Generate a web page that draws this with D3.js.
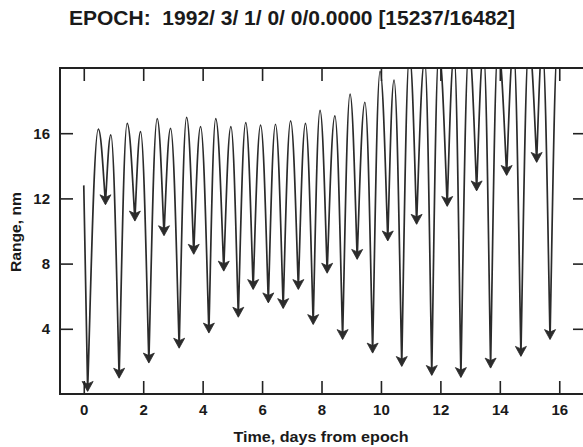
<!DOCTYPE html>
<html>
<head>
<meta charset="utf-8">
<script src="https://cdn.jsdelivr.net/npm/d3@7"></script>
<style>
  html, body { margin: 0; padding: 0; background: #fff; }
  svg { display: block; }
  text { font-family: "Liberation Sans", Arial, Helvetica, sans-serif; font-weight: bold; fill: #1a1a1a; }
</style>
</head>
<body>
<script>
// ---- data ----
const titleText = "EPOCH:  1992/ 3/ 1/ 0/ 0/0.0000 [15237/16482]";
const xLabel = "Time, days from epoch";
const yLabel = "Range, nm";
const xTicks = [0, 2, 4, 6, 8, 10, 12, 14, 16];
const yTicks = [4, 8, 12, 16];

const startPoint = [0.0, 12.8];
const minT = [0.13, 0.73, 1.19, 1.72, 2.19, 2.70, 3.21, 3.70, 4.21, 4.71, 5.20, 5.70, 6.21, 6.71, 7.22, 7.72,
              8.19, 8.71, 9.20, 9.72, 10.23, 10.70, 11.20, 11.71, 12.23, 12.69, 13.22, 13.69, 14.23, 14.71, 15.24, 15.69];
const minV = [0.25, 11.7, 1.06, 10.7, 1.99, 9.8, 2.9, 8.66, 3.83, 7.63, 4.8, 6.5, 5.68, 5.33, 6.5, 4.35,
              7.5, 3.43, 8.35, 2.6, 9.48, 1.78, 10.5, 1.23, 11.6, 1.1, 12.55, 1.68, 13.5, 2.4, 14.3, 3.43];
const peakT = [0.49, 0.91, 1.46, 1.91, 2.47, 2.92, 3.46, 3.93, 4.44, 4.95, 5.45, 5.95, 6.45, 6.96, 7.46, 7.95,
               8.45, 8.96, 9.46, 9.97, 10.44, 10.96, 11.47, 11.95, 12.46, 12.96, 13.45, 13.94, 14.46, 14.98, 15.43];
const peakV = [16.25, 15.9, 16.6, 16.1, 16.9, 16.3, 16.97, 16.4, 16.9, 16.4, 16.65, 16.5, 16.55, 16.76, 16.6, 17.4,
               17.06, 18.4, 17.9, 19.8, 19.26, 20.8, 20.5, 21.0, 20.8, 21.2, 21.0, 21.3, 21.2, 21.5, 21.3];
const endPoint = [15.95, 21.5];

// ---- layout ----
const W = 583, H = 447;
const plot = { left: 60, right: 586, top: 68, bottom: 394 };

const svg = d3.select("body").append("svg").attr("width", W).attr("height", H);

const x = d3.scaleLinear().domain([-0.8, 16.9]).range([plot.left, plot.right]);
const y = d3.scaleLinear().domain([0, 20]).range([plot.bottom, plot.top]);

// series assembled from the arrays above
const series = [startPoint];
minT.forEach((t, i) => {
  series.push([t, minV[i]]);
  if (i < peakT.length) series.push([peakT[i], peakV[i]]);
});
series.push(endPoint);

// custom curve: rounded peaks, sharp minima
function cuspCurve(context) {
  let pts;
  return {
    areaStart() {}, areaEnd() {},
    lineStart() { pts = []; },
    point(px, py) { pts.push([+px, +py]); },
    lineEnd() {
      if (!pts.length) return;
      context.moveTo(pts[0][0], pts[0][1]);
      const a = 0.42, b = 0.25, c = 0.3;
      for (let i = 1; i < pts.length; i++) {
        const p0 = pts[i - 1], p1 = pts[i];
        if (i === 1) { context.lineTo(p1[0], p1[1]); continue; }
        const dx = p1[0] - p0[0];
        if (p1[1] > p0[1]) { // going down to a minimum
          const dy = p1[1] - p0[1];
          context.bezierCurveTo(p0[0] + a * dx, p0[1], p1[0] - b * dx, p1[1] - c * dy, p1[0], p1[1]);
        } else { // rising from a minimum to a peak
          const dy = p0[1] - p1[1];
          context.bezierCurveTo(p0[0] + b * dx, p0[1] - c * dy, p1[0] - a * dx, p1[1], p1[0], p1[1]);
        }
      }
    }
  };
}

svg.append("defs").append("clipPath").attr("id", "clip")
  .append("rect").attr("x", plot.left).attr("y", plot.top)
  .attr("width", plot.right - plot.left).attr("height", plot.bottom - plot.top);

const line = d3.line().x(d => x(d[0])).y(d => y(d[1])).curve(cuspCurve);

const g = svg.append("g").attr("clip-path", "url(#clip)");
g.append("path").datum(series)
  .attr("d", line)
  .attr("fill", "none")
  .attr("stroke", "#2b2b2b")
  .attr("stroke-width", 1.7)
  .attr("stroke-linejoin", "round");

// arrowheads at the minima
g.selectAll("path.arrow").data(minT.map((t, i) => [t, minV[i]])).enter()
  .append("path").attr("class", "arrow")
  .attr("transform", d => `translate(${x(d[0])},${y(d[1])})`)
  .attr("d", "M0,1.5 L-5.5,-8.5 L0,-6 L5.5,-8.5 Z")
  .attr("fill", "#2b2b2b")
  .attr("stroke", "#2b2b2b")
  .attr("stroke-width", 0.8)
  .attr("stroke-linejoin", "miter");

// axes (ticks inward on all four sides)
const tickLen = 13;
const axisColor = "#222";
const axB = svg.append("g").attr("transform", `translate(0,${plot.bottom})`)
  .call(d3.axisBottom(x).tickValues(xTicks).tickSize(-tickLen).tickPadding(10).tickFormat(d3.format("d")));
const axT = svg.append("g").attr("transform", `translate(0,${plot.top})`)
  .call(d3.axisTop(x).tickValues(xTicks).tickSize(-tickLen).tickFormat(""));
const axL = svg.append("g").attr("transform", `translate(${plot.left},0)`)
  .call(d3.axisLeft(y).tickValues(yTicks).tickSize(-tickLen).tickPadding(10).tickFormat(d3.format("d")));
const axR = svg.append("g").attr("transform", `translate(${plot.right},0)`)
  .call(d3.axisRight(y).tickValues(yTicks).tickSize(-tickLen).tickFormat(""));

[axB, axT, axL, axR].forEach(ax => {
  ax.select(".domain").remove();
  ax.selectAll(".tick line").attr("stroke", axisColor).attr("stroke-width", 1.6);
  ax.selectAll("text").attr("font-size", 15).attr("fill", "#1a1a1a")
    .attr("font-family", "'Liberation Sans', Arial, sans-serif").attr("font-weight", "bold");
});

// frame
svg.append("rect")
  .attr("x", plot.left).attr("y", plot.top)
  .attr("width", plot.right - plot.left).attr("height", plot.bottom - plot.top)
  .attr("fill", "none").attr("stroke", axisColor).attr("stroke-width", 2);

// titles
svg.append("text").attr("x", 292).attr("y", 25).attr("text-anchor", "middle")
  .style("white-space", "pre")
  .attr("font-size", 19.5).attr("textLength", 446).attr("lengthAdjust", "spacingAndGlyphs")
  .text(titleText);
svg.append("text").attr("x", 321).attr("y", 442).attr("text-anchor", "middle")
  .attr("font-size", 15.5).attr("textLength", 175).attr("lengthAdjust", "spacingAndGlyphs").text(xLabel);
svg.append("text").attr("transform", "translate(21,232) rotate(-90)").attr("text-anchor", "middle")
  .attr("font-size", 14.5).attr("textLength", 80).attr("lengthAdjust", "spacingAndGlyphs").text(yLabel);
</script>
</body>
</html>
